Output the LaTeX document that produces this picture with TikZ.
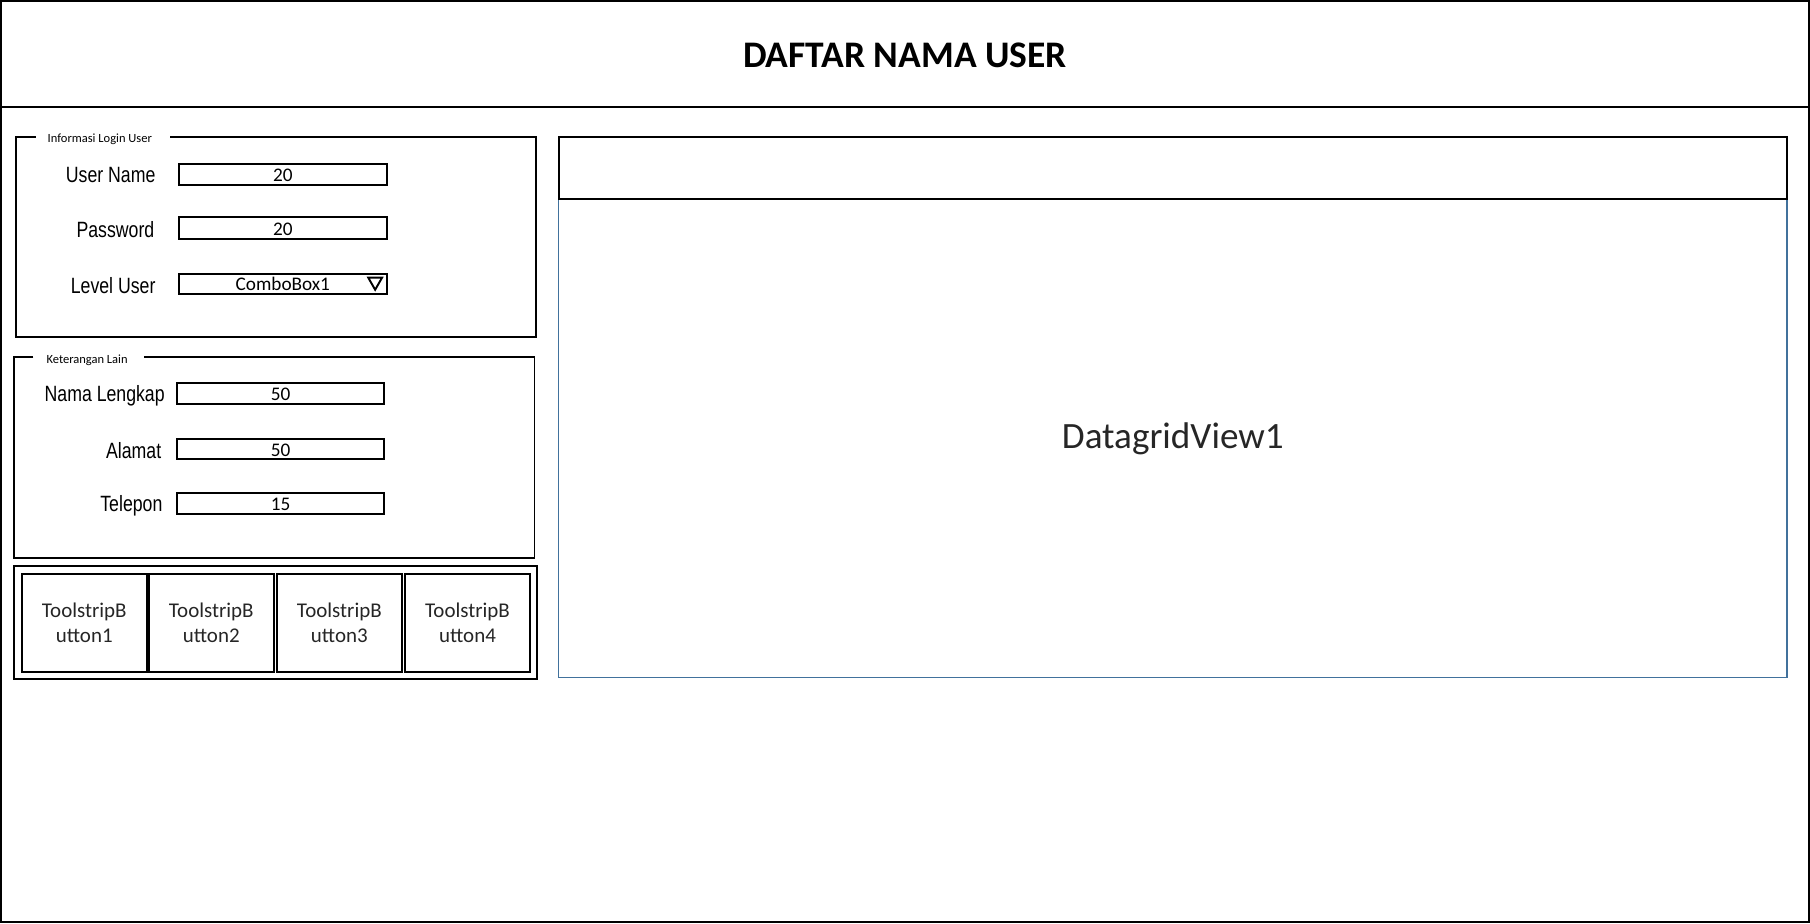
\documentclass[tikz,border=0pt]{standalone}
\usepackage{fontspec}
\setmainfont{Carlito}
\newfontfamily\narrowfont[FakeStretch=0.8]{Liberation Sans}
\definecolor{gridblue}{HTML}{41719C}
\definecolor{txtgray}{HTML}{262626}
\begin{document}
\begin{tikzpicture}[x=0.6pt,y=-0.6pt,
  frame/.style={draw=black,line width=1pt},
  tbox/.style={draw=black,line width=1pt},
  lbl/.style={anchor=east,inner sep=0pt,font=\narrowfont\fontsize{11.5}{13}\selectfont},
  val/.style={inner sep=0pt,font=\fontsize{10}{11}\selectfont},
  grplbl/.style={anchor=west,inner sep=0pt,font=\fontsize{6.5}{7}\selectfont},
  btn/.style={draw=black,line width=1pt,align=center,text=txtgray,font=\fontsize{10.9}{13.4}\selectfont}]
\useasboundingbox (0,0) rectangle (1568,800);
% outer frame and header
\draw[frame] (1,1) rectangle (1567,799);
\draw[frame] (1,93) -- (1567,93);
\node[font=\bfseries\fontsize{19.5}{23}\selectfont] (title) at (784,48) {DAFTAR NAMA USER};
% group 1
\draw[frame] (31,119) -- (14,119) -- (14,292) -- (464,292) -- (464,119) -- (147,119);
\node[grplbl] (g1) at (41,121) {Informasi Login User};
\node[lbl] (lun) at (135,152) {User Name};
\draw[tbox] (155,142) rectangle (335,160);
\node[val] (vun) at (245,152) {20};
\node[lbl] (lpw) at (134,199) {Password};
\draw[tbox] (155,188) rectangle (335,207);
\node[val] (vpw) at (245,199) {20};
\node[lbl] (llv) at (135,247) {Level User};
\draw[tbox] (155,237) rectangle (335,255);
\node[val] (vlv) at (245,246) {ComboBox1};
\draw[line width=1pt,line join=miter] (319,240.5) -- (331,240.5) -- (325,251) -- cycle;
% group 2
\draw[frame] (29,309) -- (12,309) -- (12,483) -- (463,483) -- (463,309) -- (125,309);
\node[grplbl] (g2) at (40,312) {Keterangan Lain};
\node[lbl] (lnl) at (143,343) {Nama Lengkap};
\draw[tbox] (153,332) rectangle (333,350);
\node[val] (vnl) at (243,342) {50};
\node[lbl] (lal) at (140,390) {Alamat};
\draw[tbox] (153,380) rectangle (333,398);
\node[val] (val1) at (243,390) {50};
\node[lbl] (ltp) at (141,438) {Telepon};
\draw[tbox] (153,427) rectangle (333,445);
\node[val] (vtp) at (243,437) {15};
% toolstrip
\draw[frame] (12,490) rectangle (465,588);
\node[btn,minimum width=108*0.6pt,minimum height=85*0.6pt] (b1) at (73,539.5) {ToolstripB\\utton1};
\node[btn,minimum width=108*0.6pt,minimum height=85*0.6pt] (b2) at (183,539.5) {ToolstripB\\utton2};
\node[btn,minimum width=108*0.6pt,minimum height=85*0.6pt] (b3) at (294,539.5) {ToolstripB\\utton3};
\node[btn,minimum width=108*0.6pt,minimum height=85*0.6pt] (b4) at (405,539.5) {ToolstripB\\utton4};
% datagrid
\draw[draw=gridblue,line width=0.8pt] (484,172) rectangle (1548,587);
\draw[frame] (484,119) rectangle (1548,172);
\node[text=txtgray,font=\fontsize{19.3}{22}\selectfont] (dg) at (1016,380) {DatagridView1};
\end{tikzpicture}
\end{document}
